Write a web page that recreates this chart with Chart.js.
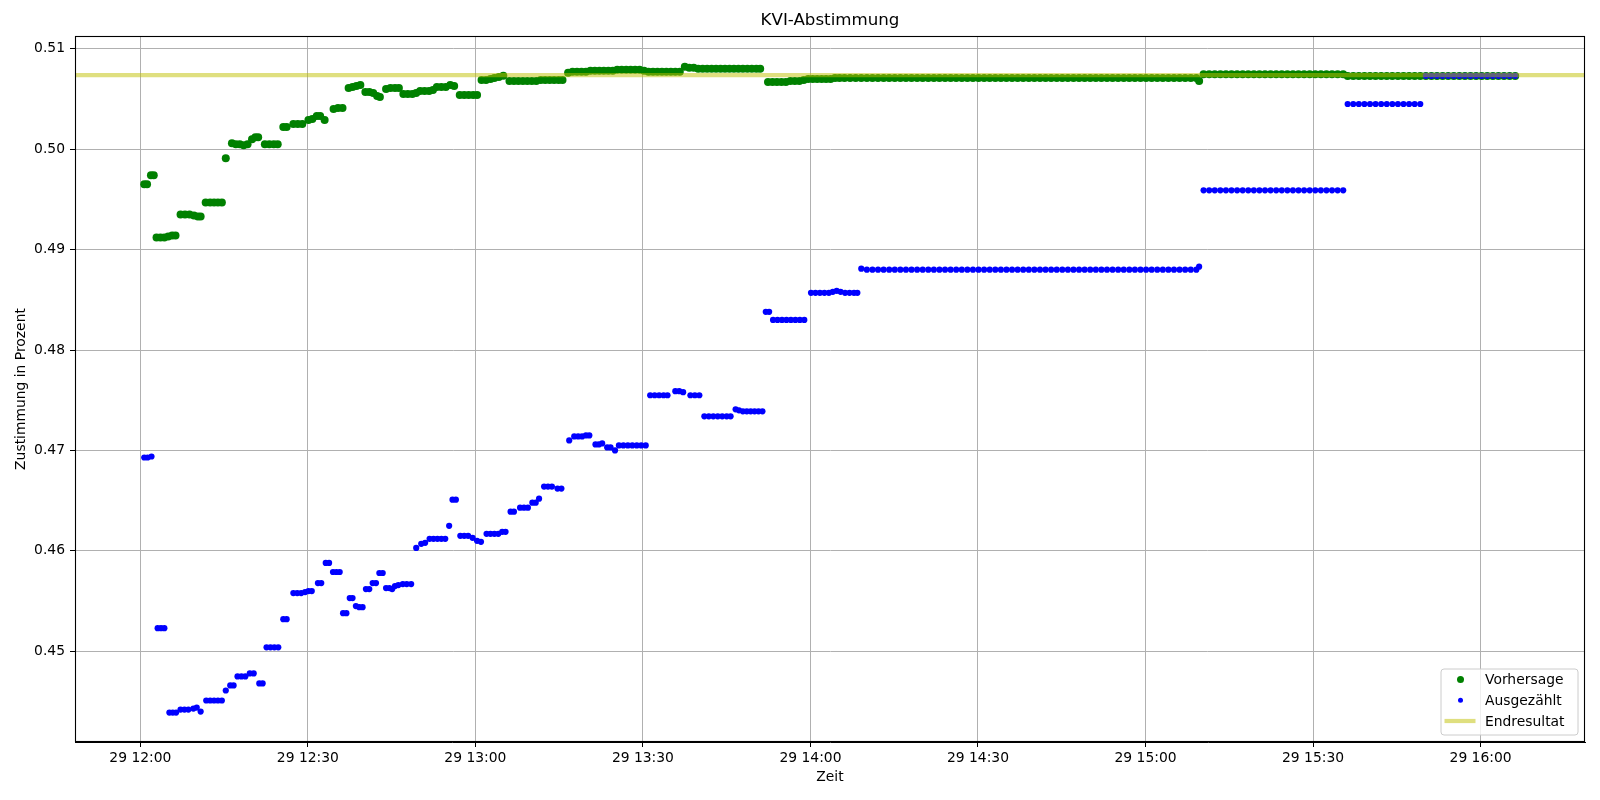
<!DOCTYPE html>
<html>
<head>
<meta charset="utf-8">
<script src="https://cdn.jsdelivr.net/npm/chart.js@4.4.0/dist/chart.umd.min.js"></script>
<style>
html,body{margin:0;padding:0;background:#fff;}
#wrap{width:1600px;height:800px;position:relative;}
</style>
</head>
<body>
<div id="wrap"><canvas id="c" width="1600" height="800"></canvas></div>
<script>
// ---- Data (minutes after 29 12:00) ----
const vorhersageZeit = [
  0.7,1.2,
  1.9,2.4,
  2.9,3.6,4.3,5.0,5.7,6.3,
  7.2,8.0,8.8,9.6,10.3,10.8,
  11.7,12.5,13.2,13.9,14.6,
  15.3,
  16.4,17.1,17.8,18.5,19.2,
  20.0,20.6,21.1,
  22.3,23.1,23.9,24.6,
  25.6,26.2,
  27.4,28.2,29.0,
  30.1,30.8,31.6,32.2,33.0,
  34.6,35.4,36.2,
  37.3,38.0,38.7,39.4,
  40.3,41.0,41.7,42.4,42.9,
  44.0,44.8,45.6,46.3,
  47.1,47.9,48.7,49.4,
  50.1,50.9,51.7,52.4,
  53.1,53.9,54.7,55.5,56.2,
  57.2,58.0,58.8,59.6,60.3,
  61.1,61.9,62.7,63.4,64.2,65.0,
  66.1,66.9,67.7,68.5,69.3,70.1,70.9,
  71.7,72.5,73.3,74.1,74.9,75.6,
  76.6,77.4,78.2,79.0,79.8,
  80.6,81.4,82.2,83.0,83.8,84.6,
  85.4,86.2,87.0,87.8,88.6,89.4,
  90.2,91.0,91.8,92.6,93.4,94.2,95.0,95.8,96.6,
  97.5,98.3,99.1,
  99.9,100.7,101.5,102.3,103.1,103.9,104.7,105.5,106.3,107.1,
  107.9,108.7,109.5,110.3,111.0,
  112.4,113.2,114.0,114.8,115.6,
  116.4,117.2,118.0,118.8,
  119.6,120.4,121.2,122.0,122.8,123.6,
  124.4,125.2,126.1,127.1,128.1,
  129.1,130.1,131.1,132.1,133.1,134.1,135.1,136.1,137.1,138.1,
  139.1,140.1,141.1,142.1,143.1,144.1,145.1,146.1,147.1,148.1,
  149.1,150.1,151.1,152.1,153.1,154.1,155.1,156.1,157.1,158.1,
  159.1,160.1,161.1,162.1,163.1,164.1,165.1,166.1,167.1,168.1,
  169.1,170.1,171.1,172.1,173.1,174.1,175.1,176.1,177.1,178.1,
  179.1,180.1,181.1,182.1,183.1,184.1,185.1,186.1,187.1,188.1,
  189.1,189.6,
  190.4,191.4,192.4,193.4,194.4,195.4,196.4,197.4,198.4,199.4,
  200.4,201.4,202.4,203.4,204.4,205.4,206.4,207.4,208.4,209.4,
  210.4,211.4,212.4,213.4,214.4,215.4,
  216.2,217.2,218.2,219.2,220.2,221.2,222.2,223.2,224.2,225.2,
  226.2,227.2,228.2,229.2,230.2,231.2,232.2,233.2,234.2,235.2,
  236.2,237.2,238.2,239.2,240.2,241.2,242.2,243.2,244.2,245.2,
  246.2
];
const vorhersageWert = [
  .4965,.4965,
  .4974,.4974,
  .4912,.4912,.4912,.4913,.4914,.4914,
  .4935,.4935,.4935,.4934,.4933,.4933,
  .4947,.4947,.4947,.4947,.4947,
  .4991,
  .5006,.5005,.5005,.5004,.5005,
  .5010,.5012,.5012,
  .5005,.5005,.5005,.5005,
  .5022,.5022,
  .5025,.5025,.5025,
  .5029,.5030,.5033,.5033,.5029,
  .5040,.5041,.5041,
  .5061,.5062,.5063,.5064,
  .5057,.5057,.5056,.5053,.5052,
  .5060,.5061,.5061,.5061,
  .5055,.5055,.5055,.5056,
  .5058,.5058,.5058,.5059,
  .5062,.5062,.5062,.5064,.5063,
  .5054,.5054,.5054,.5054,.5054,
  .5069,.5069,.5070,.5071,.5072,.5073,
  .5068,.5068,.5068,.5068,.5068,.5068,.5068,
  .5069,.5069,.5069,.5069,.5069,.5069,
  .5076,.5077,.5077,.5077,.5077,
  .5078,.5078,.5078,.5078,.5078,.5078,
  .5079,.5079,.5079,.5079,.5079,.5079,
  .5078,.5077,.5077,.5077,.5077,.5077,.5077,.5077,.5077,
  .5082,.5081,.5081,
  .5080,.5080,.5080,.5080,.5080,.5080,.5080,.5080,.5080,.5080,
  .5080,.5080,.5080,.5080,.5080,
  .5067,.5067,.5067,.5067,.5067,
  .5068,.5068,.5068,.5069,
  .5070,.5070,.5070,.5070,.5070,.5070,
  .5071,.5071,.5071,.5071,.5071,
  .5071,.5071,.5071,.5071,.5071,.5071,.5071,.5071,.5071,.5071,
  .5071,.5071,.5071,.5071,.5071,.5071,.5071,.5071,.5071,.5071,
  .5071,.5071,.5071,.5071,.5071,.5071,.5071,.5071,.5071,.5071,
  .5071,.5071,.5071,.5071,.5071,.5071,.5071,.5071,.5071,.5071,
  .5071,.5071,.5071,.5071,.5071,.5071,.5071,.5071,.5071,.5071,
  .5071,.5071,.5071,.5071,.5071,.5071,.5071,.5071,.5071,.5071,
  .5071,.5068,
  .50745,.50745,.50745,.50745,.50745,.50745,.50745,.50745,.50745,.50745,
  .50745,.50745,.50745,.50745,.50745,.50745,.50745,.50745,.50745,.50745,
  .50745,.50745,.50745,.50745,.50745,.50745,
  .50728,.50728,.50728,.50728,.50728,.50728,.50728,.50728,.50728,.50728,
  .50728,.50728,.50728,.50728,.50728,.50728,.50728,.50728,.50728,.50728,
  .50728,.50728,.50728,.50728,.50728,.50728,.50728,.50728,.50728,.50728,
  .50728
];
const ausgezaehltZeit = [
  0.7,1.3,2.0,
  3.1,3.7,4.3,
  5.2,5.8,6.4,
  7.2,7.9,8.6,
  9.5,10.1,10.8,
  11.8,12.5,13.2,13.9,14.6,
  15.3,
  16.1,16.7,
  17.4,18.1,18.8,
  19.6,20.3,
  21.3,21.9,
  22.6,23.3,24.0,24.7,
  25.6,26.2,
  27.4,28.1,28.8,29.5,
  30.1,30.7,
  31.8,32.4,
  33.2,33.8,
  34.5,35.1,35.7,
  36.3,36.9,
  37.5,38.0,
  38.6,39.2,39.8,
  40.4,41.0,
  41.6,42.2,
  42.8,43.4,
  44.0,44.6,45.1,
  45.6,46.2,
  47.0,47.7,48.5,
  49.4,
  50.3,51.0,
  51.8,52.5,53.2,53.9,54.6,
  55.3,
  55.9,56.5,
  57.3,58.0,58.7,59.5,
  60.3,61.0,
  62.0,62.7,63.4,64.1,
  64.8,65.4,
  66.3,66.9,
  68.0,68.7,69.4,
  70.2,70.8,
  71.4,
  72.3,73.0,73.7,
  74.7,75.4,
  76.8,
  77.7,78.4,79.1,79.8,80.4,
  81.5,82.1,82.7,
  83.6,84.2,
  85.0,
  85.7,86.5,87.3,88.1,88.9,89.7,90.5,
  91.3,92.1,92.9,93.7,94.4,
  95.8,96.5,97.2,
  98.5,99.3,100.1,
  101.0,101.8,102.6,103.4,104.2,105.0,105.7,
  106.6,107.2,
  107.9,108.6,109.3,110.0,110.7,111.4,
  112.0,112.6,
  113.3,114.1,114.9,115.7,116.5,117.3,118.1,118.9,
  120.1,120.9,121.7,122.5,123.3,124.0,124.7,125.4,126.2,127.0,127.8,128.4,
  129.1,130.1,131.1,132.1,133.1,134.1,135.1,136.1,137.1,138.1,
  139.1,140.1,141.1,142.1,143.1,144.1,145.1,146.1,147.1,148.1,
  149.1,150.1,151.1,152.1,153.1,154.1,155.1,156.1,157.1,158.1,
  159.1,160.1,161.1,162.1,163.1,164.1,165.1,166.1,167.1,168.1,
  169.1,170.1,171.1,172.1,173.1,174.1,175.1,176.1,177.1,178.1,
  179.1,180.1,181.1,182.1,183.1,184.1,185.1,186.1,187.1,188.1,
  189.1,189.6,
  190.4,191.4,192.4,193.4,194.4,195.4,196.4,197.4,198.4,199.4,
  200.4,201.4,202.4,203.4,204.4,205.4,206.4,207.4,208.4,209.4,
  210.4,211.4,212.4,213.4,214.4,215.4,
  216.2,217.2,218.2,219.2,220.2,221.2,222.2,223.2,224.2,225.2,
  226.2,227.2,228.2,229.2,
  230.2,231.2,232.2,233.2,234.2,235.2,236.2,237.2,238.2,239.2,
  240.2,241.2,242.2,243.2,244.2,245.2,246.2
];
const ausgezaehltWert = [
  .4693,.4693,.4694,
  .4523,.4523,.4523,
  .4439,.4439,.4439,
  .4442,.4442,.4442,
  .4443,.4444,.4440,
  .4451,.4451,.4451,.4451,.4451,
  .4461,
  .4466,.4466,
  .4475,.4475,.4475,
  .4478,.4478,
  .4468,.4468,
  .4504,.4504,.4504,.4504,
  .4532,.4532,
  .4558,.4558,.4558,.4559,
  .4560,.4560,
  .4568,.4568,
  .4588,.4588,
  .4579,.4579,.4579,
  .4538,.4538,
  .4553,.4553,
  .4545,.4544,.4544,
  .4562,.4562,
  .4568,.4568,
  .4578,.4578,
  .4563,.4563,.4562,
  .4565,.4566,
  .4567,.4567,.4567,
  .4603,
  .4607,.4608,
  .4612,.4612,.4612,.4612,.4612,
  .4625,
  .4651,.4651,
  .4615,.4615,.4615,.4613,
  .4610,.4609,
  .4617,.4617,.4617,.4617,
  .4619,.4619,
  .4639,.4639,
  .4643,.4643,.4643,
  .4648,.4648,
  .4652,
  .4664,.4664,.4664,
  .4662,.4662,
  .4710,
  .4714,.4714,.4714,.4715,.4715,
  .4706,.4706,.4707,
  .4703,.4703,
  .4700,
  .4705,.4705,.4705,.4705,.4705,.4705,.4705,
  .4755,.4755,.4755,.4755,.4755,
  .4759,.4759,.4758,
  .4755,.4755,.4755,
  .4734,.4734,.4734,.4734,.4734,.4734,.4734,
  .4741,.4740,
  .4739,.4739,.4739,.4739,.4739,.4739,
  .4838,.4838,
  .4830,.4830,.4830,.4830,.4830,.4830,.4830,.4830,
  .4857,.4857,.4857,.4857,.4857,.4858,.4859,.4858,.4857,.4857,.4857,.4857,
  .4881,.4880,.4880,.4880,.4880,.4880,.4880,.4880,.4880,.4880,
  .4880,.4880,.4880,.4880,.4880,.4880,.4880,.4880,.4880,.4880,
  .4880,.4880,.4880,.4880,.4880,.4880,.4880,.4880,.4880,.4880,
  .4880,.4880,.4880,.4880,.4880,.4880,.4880,.4880,.4880,.4880,
  .4880,.4880,.4880,.4880,.4880,.4880,.4880,.4880,.4880,.4880,
  .4880,.4880,.4880,.4880,.4880,.4880,.4880,.4880,.4880,.4880,
  .4880,.4883,
  .4959,.4959,.4959,.4959,.4959,.4959,.4959,.4959,.4959,.4959,
  .4959,.4959,.4959,.4959,.4959,.4959,.4959,.4959,.4959,.4959,
  .4959,.4959,.4959,.4959,.4959,.4959,
  .5045,.5045,.5045,.5045,.5045,.5045,.5045,.5045,.5045,.5045,
  .5045,.5045,.5045,.5045,
  .5073,.5073,.5073,.5073,.5073,.5073,.5073,.5073,.5073,.5073,
  .5073,.5073,.5073,.5073,.5073,.5073,.5073
];
const endresultat = 0.50737;

const xTickMinuten = [0, 30, 60, 90, 120, 150, 180, 210, 240];
const xTickLabels = ['29 12:00','29 12:30','29 13:00','29 13:30','29 14:00','29 14:30','29 15:00','29 15:30','29 16:00'];
const yTickWerte = [0.45, 0.46, 0.47, 0.48, 0.49, 0.50, 0.51];
const yTickLabels = ['0.45','0.46','0.47','0.48','0.49','0.50','0.51'];

const X_MIN = -11.7, X_MAX = 258.7;
const Y_MIN = 0.44097, Y_MAX = 0.51127;

// ---- Build datasets ----
const toPoints = (xs, ys) => xs.map((x, i) => ({x: x, y: ys[i]}));

const FONT = 'DejaVu Sans';
const GREEN = '#008000', BLUE = '#0000ff', ENDCOL = 'rgba(191,191,0,0.5)';

const framePlugin = {
  id: 'frameAndLegend',
  afterDraw(chart) {
    const {ctx, chartArea: a} = chart;
    ctx.save();
    // spines
    ctx.strokeStyle = '#000';
    ctx.lineWidth = 1.1;
    ctx.strokeRect(Math.round(a.left) + 0.5, Math.round(a.top) + 0.5,
                   Math.round(a.right - a.left) - 1, Math.round(a.bottom - a.top) - 1);
    // legend
    const w = 137, h = 66;
    const bx = a.right - 7 - w, by = a.bottom - 7 - h;
    ctx.beginPath();
    const r = 3;
    ctx.moveTo(bx + r, by);
    ctx.arcTo(bx + w, by, bx + w, by + h, r);
    ctx.arcTo(bx + w, by + h, bx, by + h, r);
    ctx.arcTo(bx, by + h, bx, by, r);
    ctx.arcTo(bx, by, bx + w, by, r);
    ctx.closePath();
    ctx.fillStyle = 'rgba(255,255,255,0.8)';
    ctx.fill();
    ctx.strokeStyle = '#cccccc';
    ctx.lineWidth = 1;
    ctx.stroke();

    const ds = chart.data.datasets;
    const rows = [10.5, 31.3, 52];
    const mx = bx + 19.5, tx = bx + 44;
    ctx.font = '13.89px "' + FONT + '"';
    ctx.textBaseline = 'middle';
    ctx.textAlign = 'left';
    // Vorhersage
    ctx.fillStyle = GREEN;
    ctx.beginPath(); ctx.arc(mx, by + rows[0], 3.5, 0, Math.PI * 2); ctx.fill();
    // Ausgezählt
    ctx.fillStyle = BLUE;
    ctx.beginPath(); ctx.arc(mx, by + rows[1], 2.5, 0, Math.PI * 2); ctx.fill();
    // Endresultat
    ctx.strokeStyle = ENDCOL;
    ctx.lineWidth = 4.2;
    ctx.beginPath(); ctx.moveTo(bx + 3.5, by + rows[2]); ctx.lineTo(bx + 34.5, by + rows[2]); ctx.stroke();
    ctx.fillStyle = '#000';
    for (let i = 0; i < 3; i++) ctx.fillText(ds[i].label, tx, by + rows[i] + 1);
    ctx.restore();
  }
};

const ctx = document.getElementById('c').getContext('2d');
new Chart(ctx, {
  type: 'scatter',
  data: {
    datasets: [
      {
        label: 'Vorhersage',
        data: toPoints(vorhersageZeit, vorhersageWert),
        backgroundColor: GREEN, borderColor: GREEN, borderWidth: 0,
        pointRadius: 4.0, pointHoverRadius: 4.0, order: 3
      },
      {
        label: 'Ausgezählt',
        data: toPoints(ausgezaehltZeit, ausgezaehltWert),
        backgroundColor: BLUE, borderColor: BLUE, borderWidth: 0,
        pointRadius: 3.1, pointHoverRadius: 3.1, order: 2
      },
      {
        label: 'Endresultat',
        type: 'line',
        data: [{x: X_MIN, y: endresultat}, {x: X_MAX, y: endresultat}],
        borderColor: ENDCOL, backgroundColor: ENDCOL, borderWidth: 4.2,
        pointRadius: 0, showLine: true, fill: false, order: 1
      }
    ]
  },
  options: {
    responsive: false,
    animation: false,
    devicePixelRatio: 1,
    layout: {padding: {left: 0, right: 15, top: 0, bottom: 0}},
    plugins: {
      legend: {display: false},
      tooltip: {enabled: false},
      title: {
        display: true, text: 'KVI-Abstimmung', fullSize: false,
        color: '#000', font: {family: FONT, size: 16.67, weight: 'normal'},
        padding: {top: 11, bottom: 5}
      }
    },
    scales: {
      x: {
        type: 'linear', min: X_MIN, max: X_MAX,
        afterBuildTicks: s => { s.ticks = xTickMinuten.map(v => ({value: v})); },
        afterFit: s => { s.height = 58; },
        ticks: {
          autoSkip: false, maxRotation: 0, color: '#000', padding: 3,
          font: {family: FONT, size: 13.89},
          callback: (v) => xTickLabels[xTickMinuten.indexOf(v)]
        },
        grid: {color: '#b0b0b0', lineWidth: 1, tickColor: '#000', tickLength: 5, tickWidth: 1},
        border: {display: true, color: '#000', width: 1},
        title: {display: true, text: 'Zeit', color: '#000', font: {family: FONT, size: 13.89}, padding: {top: 0, bottom: 14}}
      },
      y: {
        type: 'linear', min: Y_MIN, max: Y_MAX,
        afterBuildTicks: s => { s.ticks = yTickWerte.map(v => ({value: v})); },
        afterFit: s => { s.width = 75; },
        ticks: {
          color: '#000', padding: 5,
          font: {family: FONT, size: 13.89},
          callback: (v) => yTickLabels[yTickWerte.findIndex(t => Math.abs(t - v) < 1e-9)]
        },
        grid: {color: '#b0b0b0', lineWidth: 1, tickColor: '#000', tickLength: 5, tickWidth: 1},
        border: {display: true, color: '#000', width: 1},
        title: {display: true, text: 'Zustimmung in Prozent', color: '#000', font: {family: FONT, size: 13.89}, padding: {top: 13, bottom: 0}}
      }
    }
  },
  plugins: [framePlugin]
});
</script>
</body>
</html>
